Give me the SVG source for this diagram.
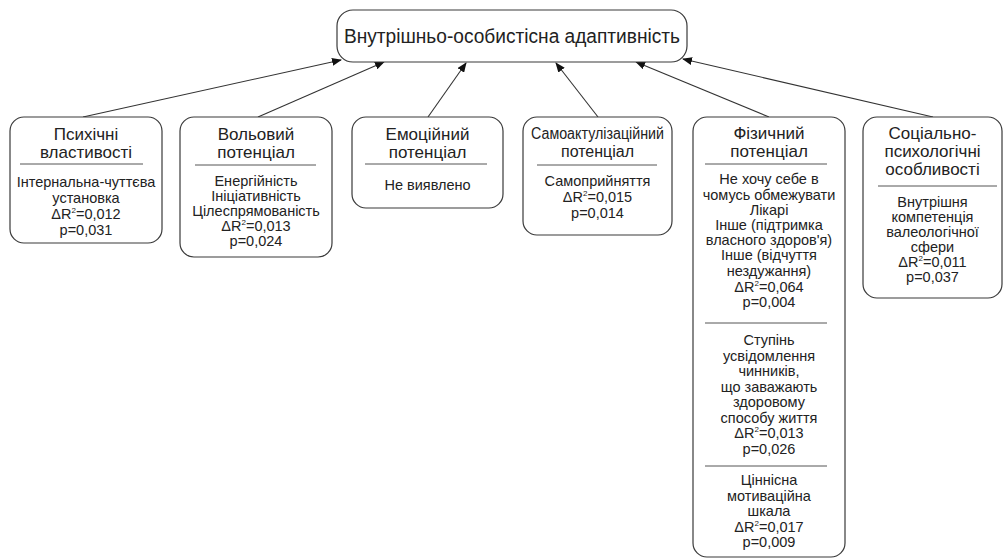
<svg xmlns="http://www.w3.org/2000/svg" width="1004" height="559" viewBox="0 0 1004 559">
<style>
.box{fill:#fff;stroke:#3a3a3a;stroke-width:1.2}
.div{stroke:#555;stroke-width:1}
.t{font-family:"Liberation Sans",Arial,sans-serif;fill:#222;text-anchor:middle}
.h{font-size:17px}
.b{font-size:14.5px}
.top{font-size:20px}
.con{stroke:#333;stroke-width:1.1;fill:none;marker-end:url(#ah)}
</style>
<defs>
<marker id="ah" markerWidth="10" markerHeight="8" refX="9" refY="4" orient="auto" markerUnits="userSpaceOnUse">
<path d="M0,0 L10,4 L0,8 Z" fill="#111"/>
</marker>
</defs>
<rect width="1004" height="559" fill="#fff"/>
<g id="connectors">
<line class="con" x1="83" y1="117" x2="341" y2="60"/>
<line class="con" x1="258" y1="117" x2="384" y2="62"/>
<line class="con" x1="428" y1="117" x2="466" y2="63"/>
<line class="con" x1="598" y1="117" x2="556" y2="63"/>
<line class="con" x1="769" y1="117" x2="636" y2="62"/>
<line class="con" x1="933" y1="117" x2="683" y2="59"/>
</g>
<g id="root">
<rect class="box" x="337" y="10" width="350" height="52" rx="16"/>
<text class="t top" x="512" y="43" textLength="336" lengthAdjust="spacingAndGlyphs">Внутрішньо-особистісна адаптивність</text>
</g>
<g id="n1">
<rect class="box" x="10" y="117" width="152" height="126" rx="14"/>
<text class="t h" x="86" y="140">Психічні</text>
<text class="t h" x="86" y="158">властивості</text>
<line class="div" x1="20" y1="164" x2="143" y2="164"/>
<text class="t b" x="86" y="187">Інтернальна-чуттєва</text>
<text class="t b" x="86" y="203">установка</text>
<text class="t b" x="86" y="219">ΔR<tspan font-size="8" dy="-6">2</tspan><tspan dy="6">=0,012</tspan></text>
<text class="t b" x="86" y="235">p=0,031</text>
</g>
<g id="n2">
<rect class="box" x="180" y="117" width="152" height="140" rx="14"/>
<text class="t h" x="256" y="140">Вольовий</text>
<text class="t h" x="256" y="158">потенціал</text>
<line class="div" x1="195" y1="165" x2="316" y2="165"/>
<text class="t b" x="256" y="186">Енергійність</text>
<text class="t b" x="256" y="201">Ініціативність</text>
<text class="t b" x="256" y="216">Цілеспрямованість</text>
<text class="t b" x="256" y="231">ΔR<tspan font-size="8" dy="-6">2</tspan><tspan dy="6">=0,013</tspan></text>
<text class="t b" x="256" y="246">p=0,024</text>
</g>
<g id="n3">
<rect class="box" x="352" y="117" width="151" height="91" rx="14"/>
<text class="t h" x="427.5" y="140">Емоційний</text>
<text class="t h" x="427.5" y="158">потенціал</text>
<line class="div" x1="365" y1="164" x2="487" y2="164"/>
<text class="t b" x="427.5" y="190">Не виявлено</text>
</g>
<g id="n4">
<rect class="box" x="523" y="117" width="149" height="118" rx="14"/>
<text class="t" x="597.5" y="139" textLength="133" lengthAdjust="spacingAndGlyphs" style="font-size:16px">Самоактулізаційний</text>
<text class="t" x="597.5" y="157" style="font-size:16px">потенціал</text>
<line class="div" x1="537" y1="165" x2="657" y2="165"/>
<text class="t b" x="597.5" y="186">Самоприйняття</text>
<text class="t b" x="597.5" y="202">ΔR<tspan font-size="8" dy="-6">2</tspan><tspan dy="6">=0,015</tspan></text>
<text class="t b" x="597.5" y="218">p=0,014</text>
</g>
<g id="n5">
<rect class="box" x="693" y="117" width="152" height="440" rx="14"/>
<text class="t h" x="769" y="139">Фізичний</text>
<text class="t h" x="769" y="157">потенціал</text>
<line class="div" x1="705" y1="164" x2="827" y2="164"/>
<text class="t b" x="769" y="184">Не хочу себе в</text>
<text class="t b" x="769" y="200">чомусь обмежувати</text>
<text class="t b" x="769" y="215">Лікарі</text>
<text class="t b" x="769" y="230">Інше (підтримка</text>
<text class="t b" x="769" y="245">власного здоров'я)</text>
<text class="t b" x="769" y="260">Інше (відчуття</text>
<text class="t b" x="769" y="276">нездужання)</text>
<text class="t b" x="769" y="292">ΔR<tspan font-size="8" dy="-6">2</tspan><tspan dy="6">=0,064</tspan></text>
<text class="t b" x="769" y="307">p=0,004</text>
<line class="div" x1="705" y1="323" x2="827" y2="323"/>
<text class="t b" x="769" y="345">Ступінь</text>
<text class="t b" x="769" y="361">усвідомлення</text>
<text class="t b" x="769" y="376">чинників,</text>
<text class="t b" x="769" y="392">що заважають</text>
<text class="t b" x="769" y="407">здоровому</text>
<text class="t b" x="769" y="423">способу життя</text>
<text class="t b" x="769" y="438">ΔR<tspan font-size="8" dy="-6">2</tspan><tspan dy="6">=0,013</tspan></text>
<text class="t b" x="769" y="454">p=0,026</text>
<line class="div" x1="705" y1="466" x2="827" y2="466"/>
<text class="t b" x="769" y="485">Ціннісна</text>
<text class="t b" x="769" y="501">мотиваційна</text>
<text class="t b" x="769" y="516">шкала</text>
<text class="t b" x="769" y="532">ΔR<tspan font-size="8" dy="-6">2</tspan><tspan dy="6">=0,017</tspan></text>
<text class="t b" x="769" y="547">p=0,009</text>
</g>
<g id="n6">
<rect class="box" x="863" y="117" width="139" height="181" rx="14"/>
<text class="t h" x="932.5" y="139">Соціально-</text>
<text class="t h" x="932.5" y="157">психологічні</text>
<text class="t h" x="932.5" y="175">особливості</text>
<line class="div" x1="878" y1="186" x2="997" y2="186"/>
<text class="t b" x="932.5" y="207">Внутрішня</text>
<text class="t b" x="932.5" y="222">компетенція</text>
<text class="t b" x="932.5" y="237">валеологічної</text>
<text class="t b" x="932.5" y="252">сфери</text>
<text class="t b" x="932.5" y="267">ΔR<tspan font-size="8" dy="-6">2</tspan><tspan dy="6">=0,011</tspan></text>
<text class="t b" x="932.5" y="282">p=0,037</text>
</g>
</svg>
